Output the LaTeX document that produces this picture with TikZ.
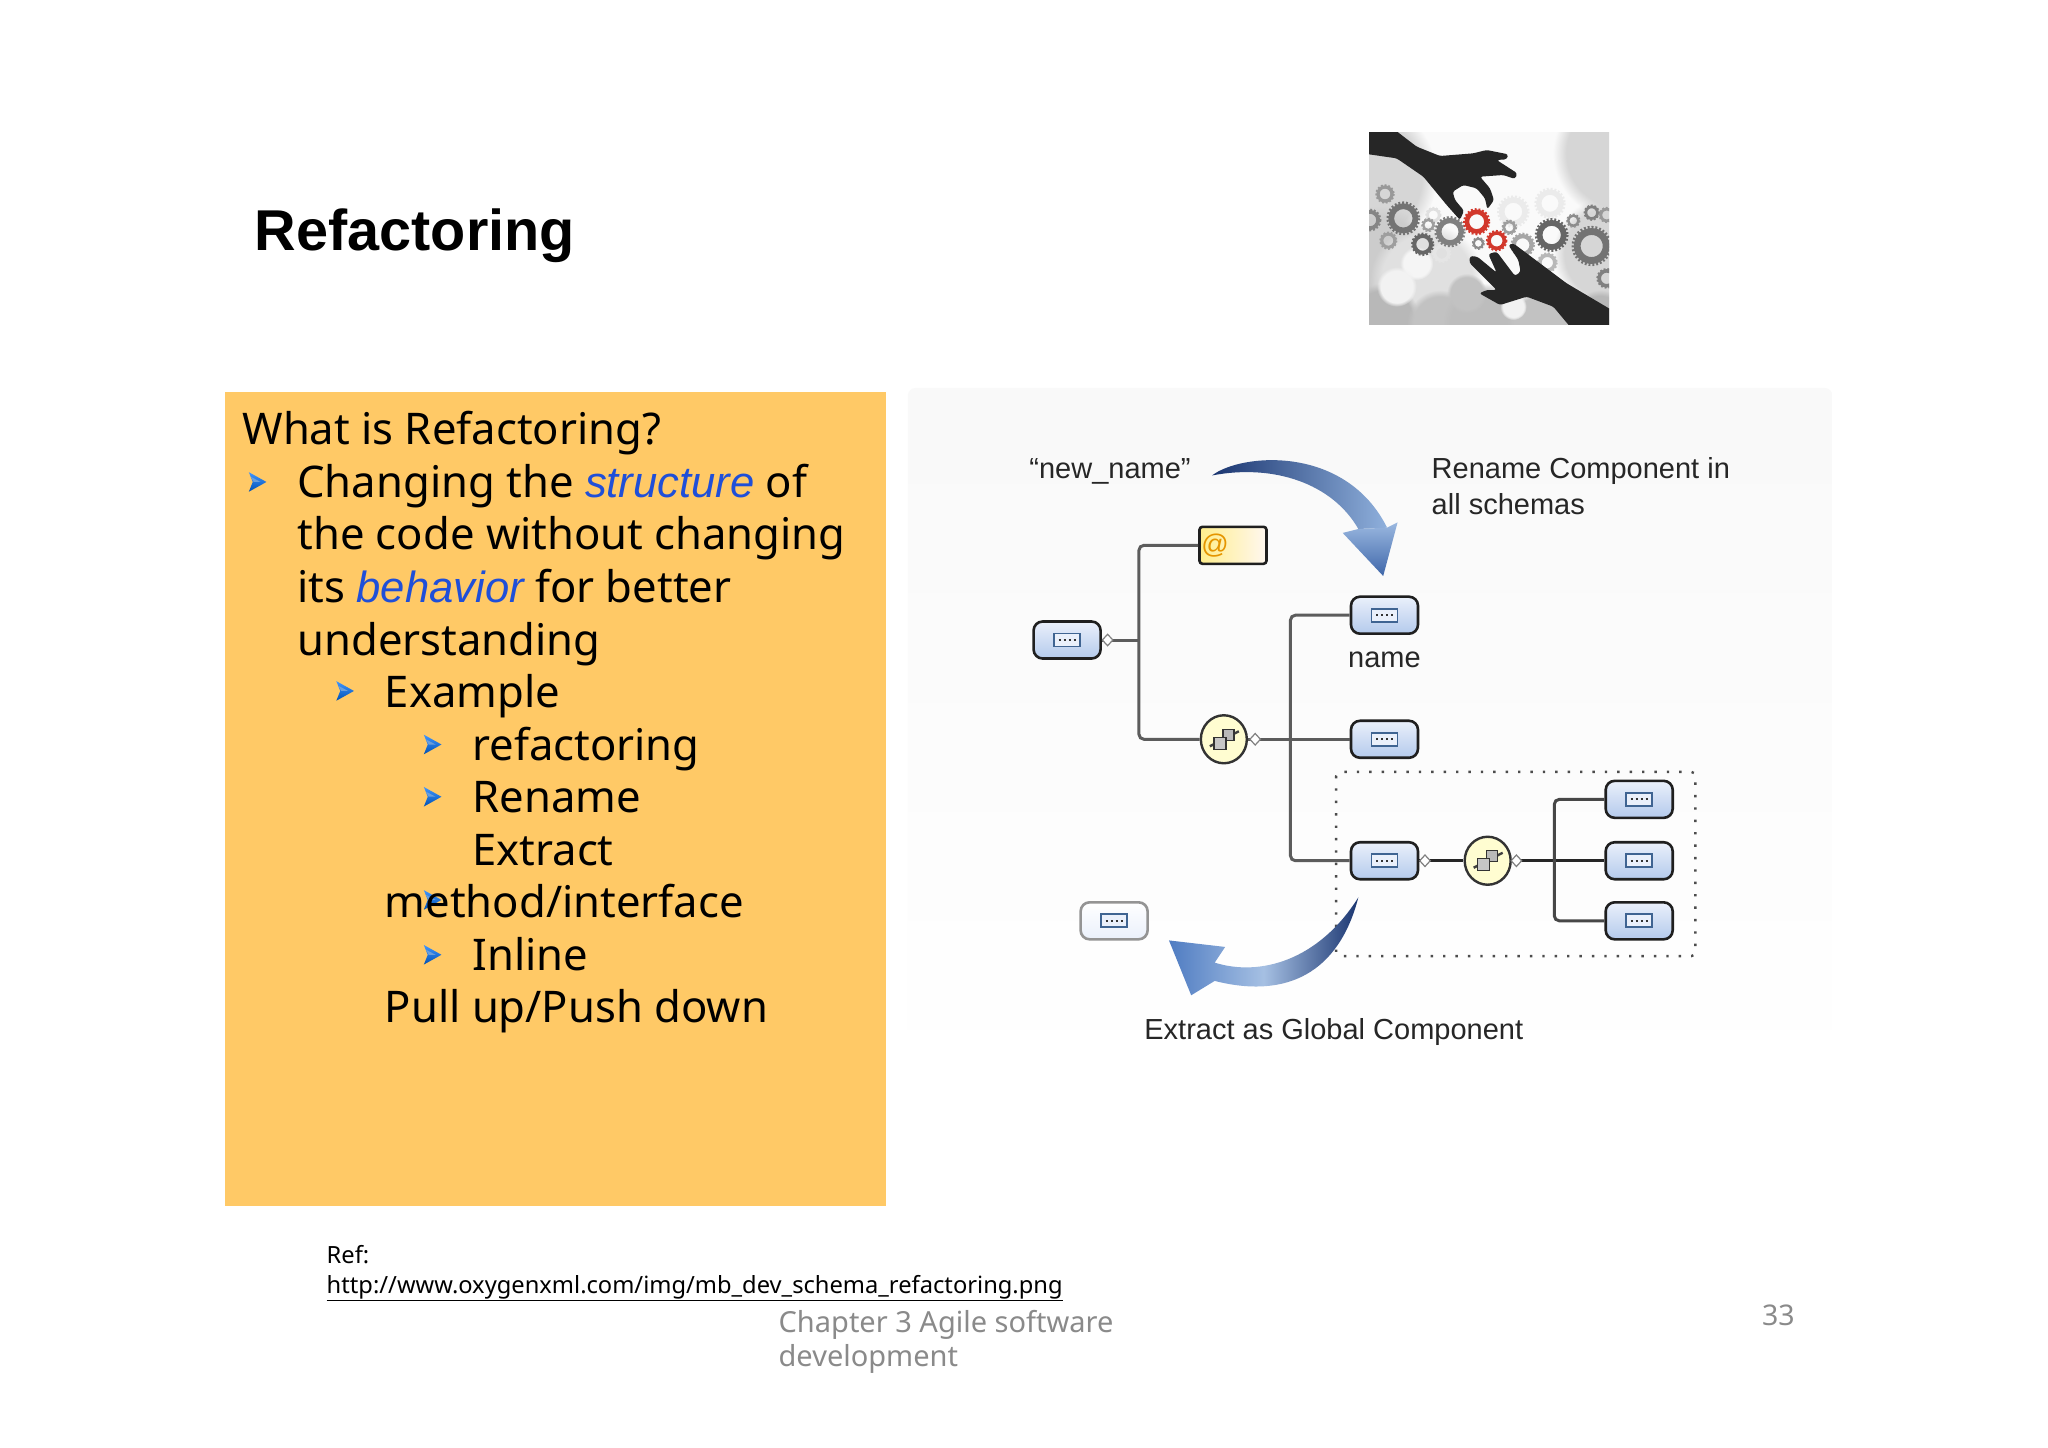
\documentclass[tikz,border=0pt]{standalone}
\usepackage{fontspec}
\setmainfont{Noto Sans}
\newfontfamily\arialf{Liberation Sans}
\usetikzlibrary{shapes.geometric,fadings}
\definecolor{slidebox}{HTML}{FFC966}
\definecolor{italblue}{HTML}{1F4FD8}
\definecolor{footgray}{HTML}{8A8A8A}
\definecolor{linegray}{HTML}{5C5C5C}
\definecolor{boxtop}{HTML}{EAF0FB}
\definecolor{boxbot}{HTML}{B4CAEC}
\definecolor{iconline}{HTML}{3F6492}
\definecolor{navy}{HTML}{1A3570}
\definecolor{steel}{HTML}{8FB0DC}
\definecolor{midblue}{HTML}{4F7CC2}
\definecolor{gearred}{HTML}{D2382C}
\tikzset{
  bodytxt/.style={anchor=base west,inner sep=0pt,font=\fontsize{43.6pt}{52pt}\selectfont},
  difftxt/.style={anchor=base west,inner sep=0pt,font=\arialf\fontsize{29pt}{36pt}\selectfont,text=black!85},
  compbox/.style={draw=black!88,line width=2.6pt,rounded corners=9pt,minimum width=67pt,minimum height=37pt,
    top color=boxtop,bottom color=boxbot,inner sep=0pt,
    path picture={
      \draw[sharp corners,iconline,line width=1.8pt,fill=boxtop] ([xshift=-13pt,yshift=-6.5pt]path picture bounding box.center) rectangle ([xshift=13pt,yshift=6.5pt]path picture bounding box.center);
      \draw[sharp corners,black!80,line width=2pt,dash pattern=on 2pt off 3pt] ([xshift=-8.5pt]path picture bounding box.center) -- ([xshift=8.5pt]path picture bounding box.center);
    }},
  globalbox/.style={compbox,draw=black!42,top color=white,bottom color=boxtop},
  attrbox/.style={draw=black!88,line width=2.6pt,rounded corners=3pt,minimum width=67pt,minimum height=37pt,
    left color=orange!30!yellow!45!white,right color=orange!6!white,inner sep=0pt,text=orange!70!yellow!90!black,
    font=\arialf\fontsize{27pt}{27pt}\selectfont,align=left},
  seqoval/.style={ellipse,draw=black!80,line width=2.4pt,minimum width=46pt,minimum height=48pt,inner sep=0pt,
    fill=yellow!18!white,
    path picture={
      \draw[sharp corners,black!75,line width=2.4pt] ([xshift=-14pt,yshift=-7pt]path picture bounding box.center) -- ([xshift=15pt,yshift=8pt]path picture bounding box.center);
      \draw[sharp corners,fill=gray!55,draw=black!80,line width=1.4pt] ([xshift=-1pt,yshift=-1pt]path picture bounding box.center) rectangle ([xshift=10pt,yshift=10pt]path picture bounding box.center);
      \draw[sharp corners,fill=gray!45,draw=black!80,line width=1.4pt] ([xshift=-10pt,yshift=-10pt]path picture bounding box.center) rectangle ([xshift=2pt,yshift=2pt]path picture bounding box.center);
    }},
  connline/.style={draw=linegray,line width=3pt,rounded corners=5pt},
  tinyjoint/.style={diamond,draw=black!50,fill=white,line width=1.2pt,minimum width=11pt,minimum height=12pt,inner sep=0pt},
}
% small blue bullet arrow
\newcommand{\bularrow}[2]{%
  \shade[top color=cyan!45!blue!75!white,bottom color=blue!55!cyan!70!black,shift={(#1,#2)}]
    (-6.5,-7.5) -- (7,0) -- (-6.5,7.5) -- (-3.5,0) -- cycle;
  \fill[cyan!55!blue!60!white,shift={(#1,#2)}] (-5,-4) -- (2.5,0) -- (-2.8,0) -- cycle;}
% gear at zoom coords: x,y,outer radius,colour
\newcommand{\gearat}[4]{%
  \draw[#4,line width=#3*0.11pt] (#1,#2) circle [radius=#3*0.70];
  \draw[#4,line width=#3*0.05pt,dash pattern=on 1.9pt off 1.9pt] (#1,#2) circle [radius=#3*0.90];}
% soft blob
\newcommand{\softblob}[4]{%
  \fill[#4,path fading=circle with fuzzy edge 20 percent] (#1,#2) circle [radius=#3];}
\begin{document}
\begin{tikzpicture}[x=1.30612pt,y=-1.30612pt]
\useasboundingbox (0,0) rectangle (1568,1108.6);
\fill[white] (0,0) rectangle (1568,1108.6);

% title
\node[anchor=base west,inner sep=0pt,font=\arialf\bfseries\fontsize{57.6pt}{60pt}\selectfont] (title) at (195,192) {Refactoring};

% gear picture
\begin{scope}[shift={(1340pt,-120pt)},x=0.33333pt,y=-0.33333pt]
  \begin{scope}
  \clip (87,37) rectangle (807,613);
  \fill[black!2] (87,37) rectangle (807,613);
  \softblob{840}{100}{200}{black!16}
  \softblob{60}{170}{230}{black!16}
  \softblob{120}{430}{170}{black!20}
  \softblob{810}{400}{170}{black!16}
  \softblob{260}{480}{170}{black!12}
  \softblob{130}{600}{110}{black!28}
  \softblob{300}{610}{100}{black!24}
  \softblob{430}{610}{120}{black!26}
  \softblob{600}{610}{100}{black!24}
  \softblob{780}{600}{90}{black!28}
  \softblob{380}{520}{60}{black!24}
  \softblob{230}{430}{50}{black!4}
  \softblob{170}{500}{60}{black!5}
  \softblob{520}{560}{40}{black!5}
  \gearat{520}{275}{50}{black!8}
  \gearat{630}{250}{48}{black!8}
  \gearat{305}{400}{30}{black!10}
  \gearat{280}{285}{25}{black!12}
  \gearat{135}{222}{30}{black!40}
  \gearat{90}{300}{35}{black!48}
  \gearat{190}{295}{52}{black!55}
  \gearat{145}{362}{28}{black!38}
  \gearat{265}{315}{22}{black!38}
  \gearat{248}{373}{36}{black!60}
  \gearat{330}{335}{48}{black!50}
  \gearat{415}{370}{20}{black!45}
  \gearat{508}{322}{24}{black!38}
  \gearat{548}{375}{38}{black!35}
  \gearat{635}{345}{52}{black!60}
  \gearat{700}{302}{22}{black!45}
  \gearat{755}{278}{25}{black!50}
  \gearat{800}{285}{25}{black!40}
  \gearat{755}{378}{62}{black!55}
  \gearat{622}{428}{32}{black!28}
  \gearat{800}{475}{32}{black!50}
  \gearat{410}{305}{42}{gearred}
  \gearat{470}{362}{33}{gearred}
  \fill[black!85,rounded corners=2.5pt] (80,30) -- (165,30) -- (230,80) -- (300,108) -- (400,100) -- (440,90) -- (505,103) -- (500,118) -- (470,120) -- (532,160) -- (525,177) -- (490,165) -- (420,170) -- (450,205) -- (462,240) -- (442,268) -- (435,235) -- (410,205) -- (370,195) -- (338,215) -- (345,240) -- (372,272) -- (360,300) -- (320,255) -- (250,170) -- (170,115) -- (80,102) -- cycle;
  \fill[black!85,rounded corners=2.5pt] (815,620) -- (690,620) -- (640,560) -- (560,530) -- (480,555) -- (418,520) -- (440,510) -- (470,510) -- (430,470) -- (388,428) -- (390,408) -- (412,410) -- (470,458) -- (445,402) -- (470,395) -- (525,468) -- (542,455) -- (535,420) -- (505,375) -- (520,370) -- (600,430) -- (680,490) -- (815,570) -- cycle;
  \end{scope}
\end{scope}

% text panel
\fill[slidebox] (172,300.5) rectangle (678.5,923);
\bularrow{331}{689}
\node[bodytxt] (l0) at (185.5,340.3) {What is Refactoring?};
\node[bodytxt] (l1) at (227.5,380.6) {Changing the {\color{italblue}\arialf\itshape\fontsize{43.6pt}{52pt}\selectfont structure} of};
\node[bodytxt] (l2) at (227.5,420.9) {the code without changing};
\node[bodytxt] (l3) at (227.5,461.2) {its {\color{italblue}\arialf\itshape\fontsize{43.6pt}{52pt}\selectfont behavior} for better};
\node[bodytxt] (l4) at (227.5,501.5) {understanding};
\node[bodytxt] (l5) at (294.5,541.8) {Example};
\node[bodytxt] (l6) at (361.5,582.1) {refactoring};
\node[bodytxt] (l7) at (361.5,622.4) {Rename};
\node[bodytxt] (l8) at (361.5,662.6) {Extract};
\node[bodytxt] (l9) at (294.5,702.8) {method/interface};
\node[bodytxt] (l10) at (361.5,743) {Inline};
\node[bodytxt] (l11) at (294.5,783.2) {Pull up/Push down};
\bularrow{197}{369}
\bularrow{264}{529}
\bularrow{331}{570}
\bularrow{331}{610}
\bularrow{331}{731}

% diagram panel
\shade[top color=black!2.5,bottom color=white,rounded corners=8pt] (695,297) rectangle (1403,830);

\node[compbox] (root) at (817,490) {};
\node[attrbox] (attr) at (944,417.5) {@\hspace{36pt}};
\node[compbox] (nm) at (1060,471) {};
\node[compbox] (second) at (1060,566) {};
\node[compbox] (third) at (1060,659) {};
\node[compbox] (ra) at (1255,612) {};
\node[compbox] (rb) at (1255,659) {};
\node[compbox] (rc) at (1255,705) {};
\node[globalbox] (global) at (853,705) {};
\node[seqoval] (seqa) at (937,566) {};
\node[seqoval] (seqb) at (1139,659) {};
\coordinate (ja) at (872,490);
\coordinate (jb) at (988,566);
\coordinate (jc) at (1190,659);

\draw[connline] (root.east) -- (ja);
\draw[connline] (attr.west) -| (ja) |- (seqa.west);
\draw[connline] (seqa.east) -- (second.west);
\draw[connline] (nm.west) -| (jb) |- (third.west);
\draw[connline,draw=black!85] (third.east) -- (seqb.west);
\draw[connline,draw=black!85] (seqb.east) -- (rb.west);
\draw[connline,draw=black!72] (ra.west) -| (jc) |- (rc.west);

\node[tinyjoint] (da) at (848,490) {};
\node[tinyjoint] (db) at (961,566) {};
\node[tinyjoint] (dc) at (1091,659) {};
\node[tinyjoint] (dd) at (1161,659) {};

\draw[black!70,line width=2.4pt,dash pattern=on 2.4pt off 10pt,rounded corners=4pt] (1023,591) rectangle (1298,732);

% swooshes
\shade[left color=navy,right color=steel] (928,364) .. controls (950,347) and (1030,340) .. (1062,404) -- (1040,405) .. controls (1020,370) and (975,355) .. (928,364) -- cycle;
\shade[top color=steel!90!white,bottom color=midblue!70!navy] (1070,400) -- (1059,441) -- (1028,408) -- (1040,405) -- (1062,404) -- cycle;
\shade[left color=midblue,right color=navy,middle color=steel!80!white] (1040,687) .. controls (1025,745) and (985,765) .. (930,751) -- (912,762) -- (895,720) -- (938,725) -- (930,737) .. controls (965,748) and (1010,735) .. (1040,687) -- cycle;

% diagram labels
\node[difftxt] (newname) at (788,366) {“new\_name”};
\node[difftxt] (rena) at (1096,366) {Rename Component in};
\node[difftxt] (renb) at (1096,394) {all schemas};
\node[difftxt] (namelab) at (1032,511) {name};
\node[difftxt] (extr) at (876,796) {Extract as Global Component};

% footer
\node[anchor=base west,inner sep=0pt,font=\fontsize{23.7pt}{30pt}\selectfont] (refa) at (250,967.5) {Ref:};
\node[anchor=base west,inner sep=0pt,font=\fontsize{23.7pt}{30pt}\selectfont] (refb) at (250,990) {\underline{http://www.oxygenxml.com/img/mb\_dev\_schema\_refactoring.png}};
\node[anchor=base west,inner sep=0pt,text=footgray,font=\fontsize{29pt}{35pt}\selectfont] (fa) at (596,1020) {Chapter 3 Agile software};
\node[anchor=base west,inner sep=0pt,text=footgray,font=\fontsize{29pt}{35pt}\selectfont] (fb) at (596,1046) {development};
\node[anchor=base west,inner sep=0pt,text=footgray,font=\fontsize{28.5pt}{35pt}\selectfont] (pnum) at (1349,1015) {33};
\end{tikzpicture}
\end{document}
